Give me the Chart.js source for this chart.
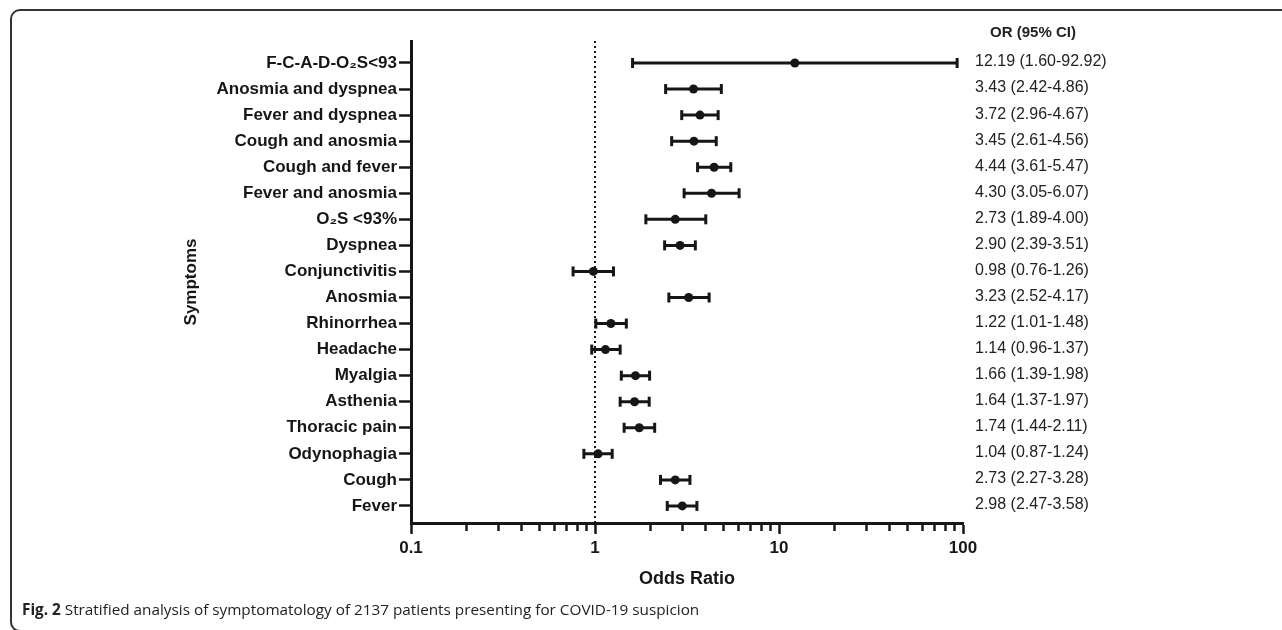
<!DOCTYPE html>
<html>
<head>
<meta charset="utf-8">
<script src="https://cdn.jsdelivr.net/npm/chart.js@4/dist/chart.umd.min.js"></script>
<style>
  html, body { margin: 0; padding: 0; background: #fff; }
  #wrap { position: relative; width: 1282px; height: 630px; overflow: hidden; }
  #frame { position: absolute; left: 10px; top: 9px; width: 1300px; height: 623px;
           border: 2px solid #333; border-radius: 10px; box-sizing: border-box; }
  #caption { position: absolute; left: 22px; top: 599px; font-family: "Open Sans", sans-serif;
             font-size: 15.3px; color: #222; white-space: nowrap; }
  #caption b { font-weight: 700; }
  canvas { position: absolute; left: 0; top: 0; }
</style>
</head>
<body>
<div id="wrap">
  <div id="frame"></div>
  <canvas id="c" width="1282" height="630"></canvas>
  <div id="caption"><b>Fig. 2</b> Stratified analysis of symptomatology of 2137 patients presenting for COVID-19 suspicion</div>
</div>
<script>
// ---- data ----
const categories = [
  "F-C-A-D-O\u2082S<93", "Anosmia and dyspnea", "Fever and dyspnea", "Cough and anosmia",
  "Cough and fever", "Fever and anosmia", "O\u2082S <93%", "Dyspnea", "Conjunctivitis",
  "Anosmia", "Rhinorrhea", "Headache", "Myalgia", "Asthenia", "Thoracic pain",
  "Odynophagia", "Cough", "Fever"
];
const oddsRatio = [12.19, 3.43, 3.72, 3.45, 4.44, 4.30, 2.73, 2.90, 0.98, 3.23, 1.22, 1.14, 1.66, 1.64, 1.74, 1.04, 2.73, 2.98];
const ciLow     = [1.60, 2.42, 2.96, 2.61, 3.61, 3.05, 1.89, 2.39, 0.76, 2.52, 1.01, 0.96, 1.39, 1.37, 1.44, 0.87, 2.27, 2.47];
const ciHigh    = [92.92, 4.86, 4.67, 4.56, 5.47, 6.07, 4.00, 3.51, 1.26, 4.17, 1.48, 1.37, 1.98, 1.97, 2.11, 1.24, 3.28, 3.58];
const majorTicks = [0.1, 1, 10, 100];
const minorTicks = [0.2, 0.3, 0.4, 0.5, 0.6, 0.7, 0.8, 0.9, 2, 3, 4, 5, 6, 7, 8, 9, 20, 30, 40, 50, 60, 70, 80, 90];
const tickLabels = ["0.1", "1", "10", "100"];
const referenceOR = 1;
const columnHeader = "OR (95% CI)";
const xTitle = "Odds Ratio";
const yTitle = "Symptoms";

// ---- build datasets ----
const Y_MIN = -0.844, Y_MAX = 17.655;
const ciData = [];
categories.forEach((c, i) => {
  ciData.push({x: ciLow[i], y: i});
  ciData.push({x: ciHigh[i], y: i});
  ciData.push({x: null, y: null});
});
const orData = categories.map((c, i) => ({x: oddsRatio[i], y: i}));
const refData = [{x: referenceOR, y: Y_MIN}, {x: referenceOR, y: Y_MAX}];
const allTicks = majorTicks.concat(minorTicks).sort((a, b) => a - b);

const INK = '#161616';
const FAM = '"Liberation Sans", Arial, Helvetica, sans-serif';

const textPlugin = {
  id: 'orColumn',
  afterDraw(chart) {
    const ctx = chart.ctx;
    const ys = chart.scales.y;
    ctx.save();
    ctx.fillStyle = '#222';
    ctx.textBaseline = 'middle';
    ctx.textAlign = 'center';
    ctx.font = 'bold 15px ' + FAM;
    ctx.fillText(columnHeader, 1033, 33);
    ctx.textAlign = 'left';
    ctx.font = '16px ' + FAM;
    categories.forEach((c, i) => {
      const s = oddsRatio[i].toFixed(2) + ' (' + ciLow[i].toFixed(2) + '-' + ciHigh[i].toFixed(2) + ')';
      ctx.fillText(s, 975, ys.getPixelForValue(i) - 1);
    });
    ctx.restore();
  }
};

new Chart(document.getElementById('c'), {
  type: 'scatter',
  data: {
    datasets: [
      { data: refData, showLine: true, borderColor: INK, borderWidth: 2, borderDash: [2, 3],
        pointRadius: 0, order: 3 },
      { data: ciData, showLine: true, spanGaps: false, borderColor: INK, borderWidth: 3,
        pointStyle: 'line', pointRotation: 90, pointRadius: 5, pointBorderWidth: 3,
        pointBorderColor: INK, pointBackgroundColor: INK, order: 2 },
      { data: orData, pointStyle: 'circle', pointRadius: 4.5, pointBackgroundColor: INK,
        pointBorderColor: INK, pointBorderWidth: 0, order: 1 }
    ]
  },
  options: {
    responsive: false,
    animation: false,
    devicePixelRatio: 1,
    layout: { padding: { top: 41, right: 319, left: 0, bottom: 0 } },
    plugins: { legend: { display: false }, tooltip: { enabled: false } },
    scales: {
      x: {
        type: 'logarithmic',
        position: 'bottom',
        min: 0.1, max: 100,
        afterBuildTicks: (s) => { s.ticks = allTicks.map(v => ({value: v, major: majorTicks.includes(v)})); },
        afterFit: (s) => { s.height = 107; },
        border: { display: true, color: INK, width: 3 },
        grid: {
          drawOnChartArea: false, drawTicks: true, tickLength: 11, tickColor: INK, tickWidth: 2.5,
          tickBorderDash: (ctx) => (ctx.tick && majorTicks.includes(ctx.tick.value)) ? [] : [6, 100]
        },
        ticks: {
          autoSkip: false, maxRotation: 0, padding: 4, color: INK,
          font: { family: FAM, size: 17, weight: 'bold' },
          callback: (v) => { const k = majorTicks.indexOf(v); return k >= 0 ? tickLabels[k] : ''; }
        },
        title: { display: true, text: xTitle, color: INK,
          font: { family: FAM, size: 18, weight: 'bold' },
          padding: { top: 0, bottom: 40 } }
      },
      y: {
        type: 'linear',
        reverse: true,
        min: Y_MIN, max: Y_MAX,
        afterBuildTicks: (s) => { s.ticks = categories.map((c, i) => ({value: i})); },
        afterFit: (s) => { s.width = 411; },
        border: { display: true, color: INK, width: 3 },
        grid: { drawOnChartArea: false, drawTicks: true, tickLength: 12, tickColor: INK, tickWidth: 2.5 },
        ticks: {
          autoSkip: false, padding: 2, color: INK,
          font: { family: FAM, size: 17, weight: 'bold' },
          callback: (v) => categories[v] !== undefined ? categories[v] : ''
        },
        title: { display: true, text: yTitle, color: INK,
          font: { family: FAM, size: 17, weight: 'bold' },
          padding: { top: 181, bottom: 0 } }
      }
    }
  },
  plugins: [textPlugin]
});
</script>
</body>
</html>
